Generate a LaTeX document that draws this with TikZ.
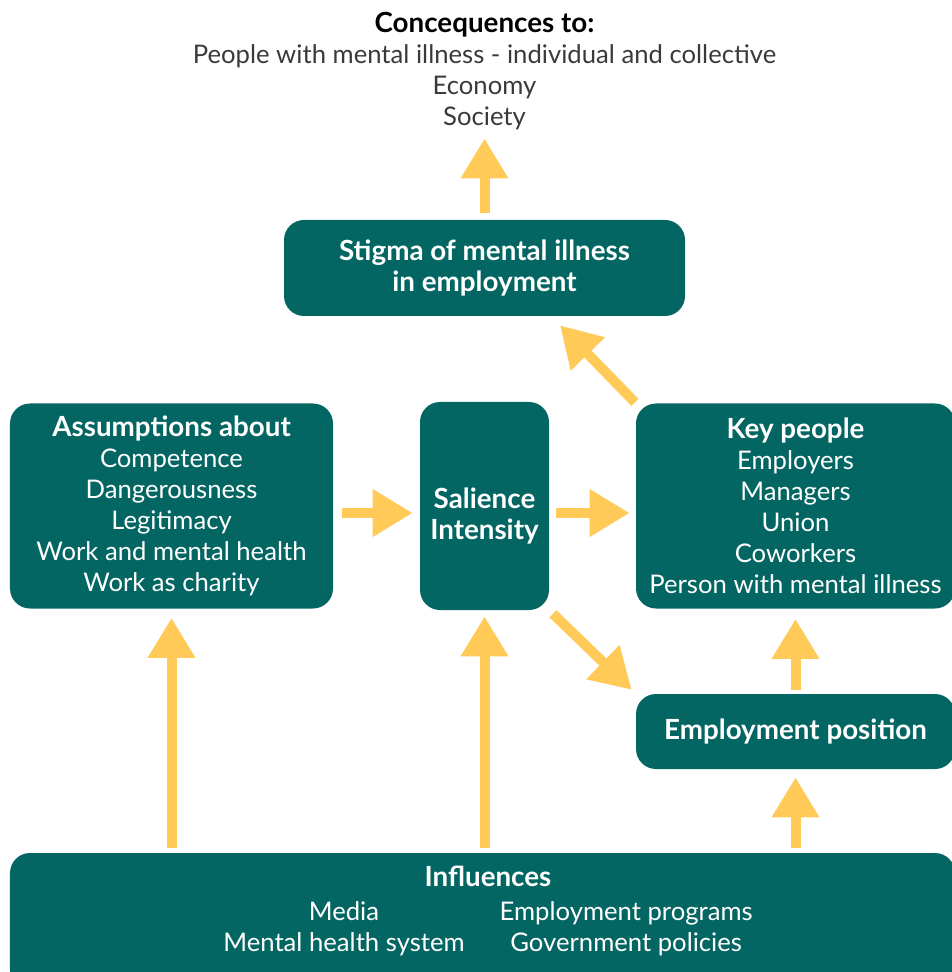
\documentclass[tikz,border=0pt]{standalone}
\usepackage{fontspec}
\setmainfont{Lato}
\usetikzlibrary{arrows.meta}
\definecolor{teal}{HTML}{046662}
\definecolor{sun}{HTML}{FFCA57}
\definecolor{ink}{HTML}{3A3A3A}
\newcommand{\hd}[1]{{\fontsize{15.8}{17.6}\selectfont\bfseries #1}}
\begin{document}
\begin{tikzpicture}[
    box/.style={fill=teal, rounded corners=0.4cm, text=white, align=center,
      font=\fontsize{14.6}{17.6}\selectfont, inner sep=0pt},
    flow/.style={draw=sun, line width=0.2cm,
      -{Triangle[length=0.8cm,width=0.9cm]}}
  ]
  \useasboundingbox (0,0) rectangle (19.02,-19.44);
  \node[align=center, text=ink, font=\fontsize{14.6}{17.6}\selectfont] (conseq) at (9.69,-1.42)
    {\hd{\color{black}Concequences to:}\\
     People with mental illness - individual and collective\\
     Economy\\ Society};
  \node[box, minimum width=8.02cm, minimum height=1.92cm] (stigma) at (9.69,-5.36)
    {\hd{Stigma of mental illness}\\ \hd{in employment}};
  \node[box, minimum width=6.46cm, minimum height=4.1cm] (assume) at (3.43,-10.12)
    {\hd{Assumptions about}\\ Competence\\ Dangerousness\\ Legitimacy\\
     Work and mental health\\ Work as charity};
  \node[box, minimum width=2.58cm, minimum height=4.16cm] (sal) at (9.69,-10.12)
    {\rule{0pt}{0.8cm}\hd{Salience}\\ \hd{Intensity}};
  \node[box, minimum width=6.38cm, minimum height=4.1cm] (key) at (15.91,-10.12)
    {\hd{Key people}\\ Employers\\ Managers\\ Union\\ Coworkers\\
     Person with mental illness};
  \node[box, minimum width=6.38cm, minimum height=1.5cm] (emp) at (15.91,-14.63)
    {\hd{Employment position}};
  \node[box, minimum width=18.9cm, minimum height=2.74cm] (infl) at (9.65,-18.43) {};
  \node[box, fill=none] (infltxt) at (9.76,-18.27)
    {\hd{Influences}\\[6pt]
     \begin{tabular}{@{}c@{\hspace{0.7cm}}c@{}}
       Media & Employment programs\\
       Mental health system & Government policies
     \end{tabular}};

  % arrows
  \draw[flow, shorten <=0.14cm, shorten >=0.05cm] (stigma.north) -- (conseq.south);
  \draw[flow, shorten <=0.02cm] (key.north west) -- ([xshift=1.51cm,yshift=-0.18cm]stigma.south);
  \draw[flow, shorten <=0.18cm, shorten >=0.14cm]
    ([yshift=-0.14cm]assume.east) -- ([yshift=-0.14cm]sal.west);
  \draw[flow, shorten <=0.14cm, shorten >=0.12cm]
    ([yshift=-0.14cm]sal.east) -- ([yshift=-0.14cm]key.west);
  \draw[flow, shorten <=0.1cm, shorten >=0.11cm] (sal.south east) -- (emp.north west);
  \draw[flow, shorten <=0.08cm, shorten >=0.2cm] (emp.north) -- (key.south);
  \draw[flow, shorten <=0.1cm, shorten >=0.18cm] (assume.south |- infl.north) -- (assume.south);
  \draw[flow, shorten <=0.1cm, shorten >=0.12cm] (sal.south |- infl.north) -- (sal.south);
  \draw[flow, shorten <=0.1cm, shorten >=0.16cm] (emp.south |- infl.north) -- (emp.south);
\end{tikzpicture}
\end{document}
